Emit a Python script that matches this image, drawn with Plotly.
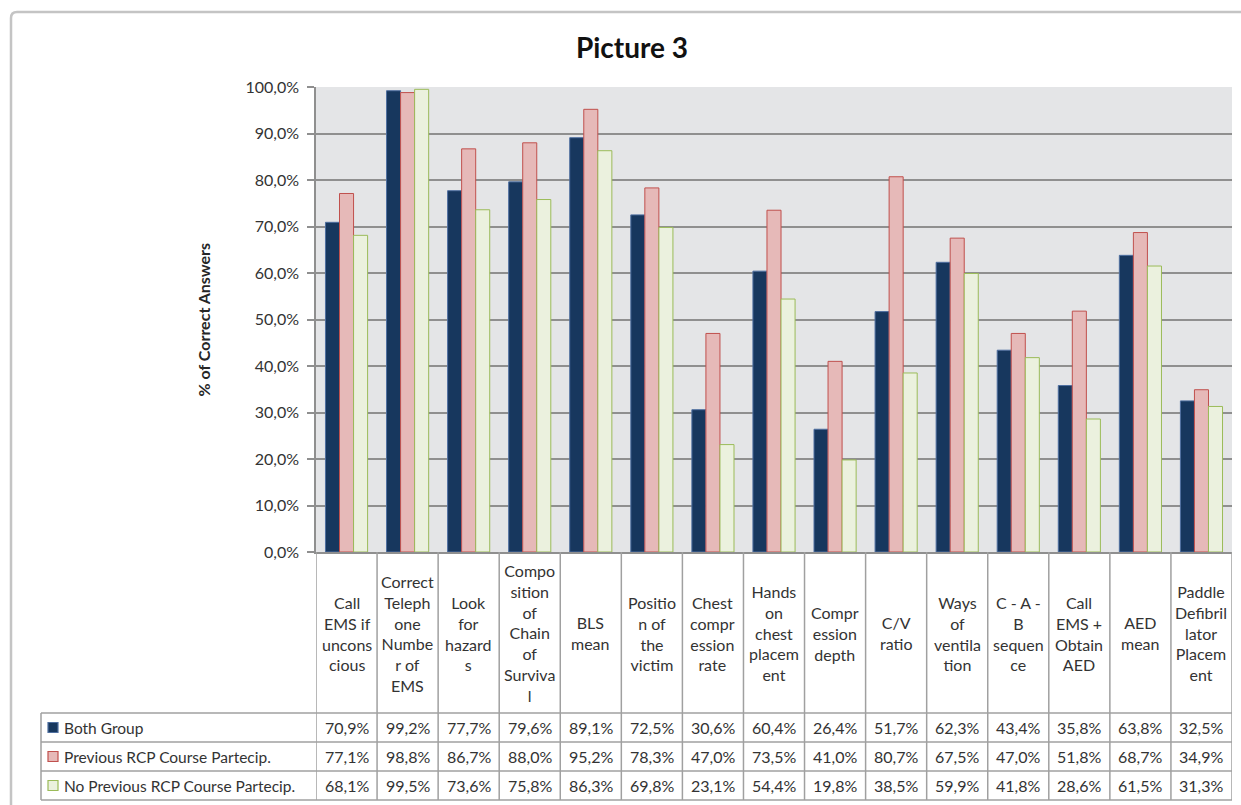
import plotly.graph_objects as go

categories = [
    "Call<br>EMS if<br>uncons<br>cious",
    "Correct<br>Teleph<br>one<br>Numbe<br>r of<br>EMS",
    "Look<br>for<br>hazard<br>s",
    "Compo<br>sition<br>of<br>Chain<br>of<br>Surviva<br>l",
    "BLS<br>mean",
    "Positio<br>n of<br>the<br>victim",
    "Chest<br>compr<br>ession<br>rate",
    "Hands<br>on<br>chest<br>placem<br>ent",
    "Compr<br>ession<br>depth",
    "C/V<br>ratio",
    "Ways<br>of<br>ventila<br>tion",
    "C - A -<br>B<br>sequen<br>ce",
    "Call<br>EMS +<br>Obtain<br>AED",
    "AED<br>mean",
    "Paddle<br>Defibril<br>lator<br>Placem<br>ent",
]

series_names = [
    "Both Group",
    "Previous RCP Course Partecip.",
    "No Previous RCP Course Partecip.",
]
both_group = [70.9, 99.2, 77.7, 79.6, 89.1, 72.5, 30.6, 60.4, 26.4, 51.7, 62.3, 43.4, 35.8, 63.8, 32.5]
previous_rcp = [77.1, 98.8, 86.7, 88.0, 95.2, 78.3, 47.0, 73.5, 41.0, 80.7, 67.5, 47.0, 51.8, 68.7, 34.9]
no_previous_rcp = [68.1, 99.5, 73.6, 75.8, 86.3, 69.8, 23.1, 54.4, 19.8, 38.5, 59.9, 41.8, 28.6, 61.5, 31.3]
series_values = [both_group, previous_rcp, no_previous_rcp]

fills = ["#17375E", "#E6B9B8", "#EBF1DE"]
edges = ["#4F6FA0", "#C0504D", "#9BBB59"]

W, H = 1241, 805
L, R, T, B = 316, 9, 87, 253
PW, PH = W - L - R, H - T - B

def px_x(px):
    return (px - L) / PW

def px_y(py):
    return (H - B - py) / PH

FONT = "Lato"
TXT = "#333333"
GRID = "#8f8f8f"
TBL = "#a0a0a0"

fig = go.Figure()
for name, vals, f, e in zip(series_names, series_values, fills, edges):
    fig.add_trace(go.Bar(x=categories, y=vals, name=name,
                         marker=dict(color=f, line=dict(color=e, width=1))))

shapes = []
annotations = []

# outer frame
fx0, fy0 = px_x(11), px_y(12)
rx, ry = 6 / PW, 6 / PH
shapes.append(dict(type="path", xref="paper", yref="paper",
                   path=f"M {fx0},{px_y(900)} L {fx0},{fy0 - ry} Q {fx0},{fy0} {fx0 + rx},{fy0} L {px_x(1300)},{fy0}",
                   line=dict(color="#c4c4c4", width=2.5)))

row_lines = [713, 742, 771, 800]
row_centers = [727.5, 756.5, 785.5]
header_center = 633
leg_left = 41

n = len(categories)
for i in range(n + 1):
    shapes.append(dict(type="line", xref="x", yref="paper", x0=i - 0.5, x1=i - 0.5,
                       y0=0, y1=px_y(row_lines[-1]), line=dict(color=TBL, width=1.5)))
shapes.append(dict(type="line", xref="paper", yref="paper", x0=px_x(leg_left), x1=px_x(leg_left),
                   y0=px_y(row_lines[0]), y1=px_y(row_lines[-1]), line=dict(color=TBL, width=1.5)))
for ry_ in row_lines:
    shapes.append(dict(type="line", xref="paper", yref="paper", x0=px_x(leg_left), x1=1,
                       y0=px_y(ry_), y1=px_y(ry_), line=dict(color=TBL, width=1.5)))

for c in categories:
    annotations.append(dict(x=c, xref="x", y=px_y(header_center), yref="paper", text=c,
                            showarrow=False, xanchor="center", yanchor="middle", align="center",
                            font=dict(family=FONT, size=16, color=TXT)))

for k, (name, vals, f, e) in enumerate(zip(series_names, series_values, fills, edges)):
    yc = px_y(row_centers[k])
    for c, v in zip(categories, vals):
        annotations.append(dict(x=c, xref="x", y=yc, yref="paper",
                                text=f"{v:.1f}%".replace(".", ","), showarrow=False,
                                xanchor="center", yanchor="middle",
                                font=dict(family=FONT, size=16, color=TXT)))
    shapes.append(dict(type="rect", xref="paper", yref="paper",
                       x0=px_x(48), x1=px_x(58), y0=yc - 5 / PH, y1=yc + 5 / PH,
                       fillcolor=f, line=dict(color=e, width=1.2)))
    annotations.append(dict(x=px_x(62), xref="paper", y=yc, yref="paper", text=name,
                            showarrow=False, xanchor="left", yanchor="middle",
                            font=dict(family=FONT, size=15.5, color=TXT)))

annotations.append(dict(x=px_x(203), xref="paper", y=0.5, yref="paper",
                        text="<b>% of Correct Answers</b>", textangle=-90, showarrow=False,
                        xanchor="center", yanchor="middle",
                        font=dict(family=FONT, size=16, color="#262626")))

fig.update_layout(
    width=W, height=H,
    margin=dict(l=L, r=R, t=T, b=B, autoexpand=False),
    paper_bgcolor="white", plot_bgcolor="#e4e5e7",
    barmode="group", bargap=0.31, bargroupgap=0,
    showlegend=False,
    separators=",.",
    title=dict(text="<b>Picture 3</b>", x=632 / W, y=1 - 48 / H, xref="container", yref="container",
               xanchor="center", yanchor="middle", font=dict(family=FONT, size=28, color="#111111")),
    xaxis=dict(range=[-0.5, n - 0.5], showticklabels=False, showgrid=False, ticks="",
               showline=True, linecolor=GRID, linewidth=1.5, zeroline=False),
    yaxis=dict(range=[0, 100], tick0=0, dtick=10, tickformat=".1f", ticksuffix="%",
               showgrid=True, gridcolor=GRID, gridwidth=1.5, zeroline=False,
               showline=True, linecolor=GRID, linewidth=1.5,
               ticks="outside", ticklen=7, tickcolor=GRID, tickwidth=1.5,
               ticklabelstandoff=5,
               tickfont=dict(family=FONT, size=16, color=TXT)),
    shapes=shapes, annotations=annotations,
)

fig.write_html("out.html")
